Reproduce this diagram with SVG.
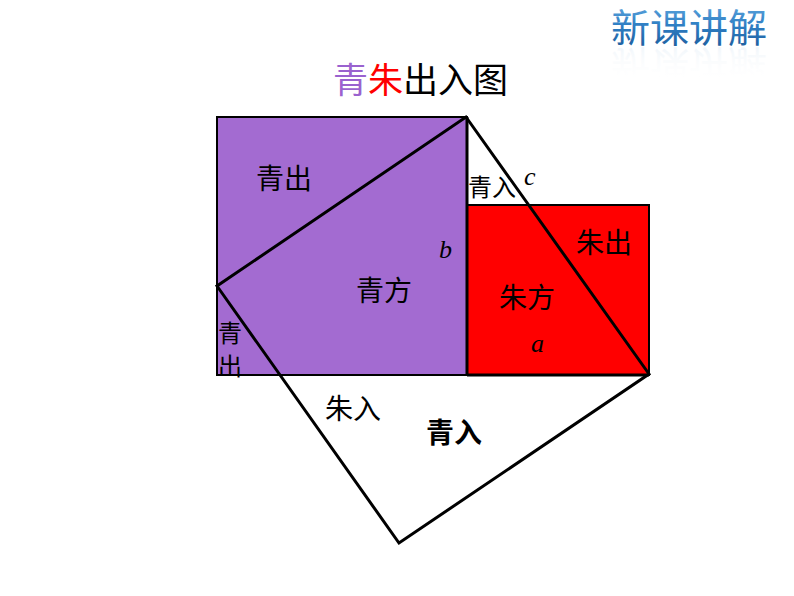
<svg xmlns="http://www.w3.org/2000/svg" width="794" height="596" viewBox="0 0 794 596">
<defs>
<linearGradient id="logoGrad" x1="0" y1="0" x2="0" y2="1">
<stop offset="0" stop-color="#6fb3e6"/>
<stop offset="0.5" stop-color="#2f7fc4"/>
<stop offset="1" stop-color="#1a5796"/>
</linearGradient>
<linearGradient id="reflGrad" x1="0" y1="0" x2="0" y2="1">
<stop offset="0.3" stop-color="#ffffff" stop-opacity="0"/>
<stop offset="1" stop-color="#9fc3e3" stop-opacity="0.6"/>
</linearGradient>
</defs>
<style>
.cjk{font-family:"Noto Sans CJK SC","Noto Sans",sans-serif;fill:#000;}
.lbl{font-size:28px;}
.it{font-family:"Liberation Serif",serif;font-style:italic;font-size:26px;fill:#000;}
.edge{fill:none;stroke:#000;}
</style>
<rect width="794" height="596" fill="#fff"/>

<g id="logo">
<text x="611" y="42" class="cjk" font-size="39" style="fill:url(#logoGrad)">新课讲解</text>
<g transform="translate(0,93) scale(1,-1)" opacity="0.35">
<text x="611" y="42" class="cjk" font-size="39" style="fill:url(#reflGrad)">新课讲解</text>
</g>
</g>

<g id="title">
<text x="333" y="93" class="cjk" font-size="35"><tspan style="fill:#9a62cf">青</tspan><tspan style="fill:#ff0000">朱</tspan><tspan>出入图</tspan></text>
</g>

<g id="qing-square">
<rect x="217" y="117" width="250" height="258" fill="#a36bd1" stroke="#000" stroke-width="2"/>
</g>
<g id="zhu-square">
<rect x="467" y="205" width="182" height="170" fill="#ff0000" stroke="#000" stroke-width="2"/>
</g>

<g id="connectors">
<line x1="467" y1="117" x2="467" y2="375" stroke="#000" stroke-width="3"/>
<line x1="467" y1="375" x2="649" y2="375" stroke="#000" stroke-width="3"/>
<polygon class="edge" points="466,117 649,374 399,543 217,286" stroke-width="3" stroke-linejoin="miter"/>
</g>

<g id="labels">
<text x="256" y="189" class="cjk lbl">青出</text>
<text x="356" y="301" class="cjk lbl">青方</text>
<text x="468" y="196" class="cjk" font-size="24">青入</text>
<text x="524" y="185" class="it">c</text>
<text x="439" y="258" class="it">b</text>
<text x="576" y="253" class="cjk lbl">朱出</text>
<text x="499" y="308" class="cjk lbl">朱方</text>
<text x="531" y="352" class="it">a</text>
<text x="218" y="342" class="cjk" font-size="24">青</text>
<text x="218" y="375" class="cjk" font-size="24">出</text>
<text x="325" y="419" class="cjk lbl">朱入</text>
<text x="426" y="443" class="cjk lbl" font-weight="bold">青入</text>
</g>
</svg>
